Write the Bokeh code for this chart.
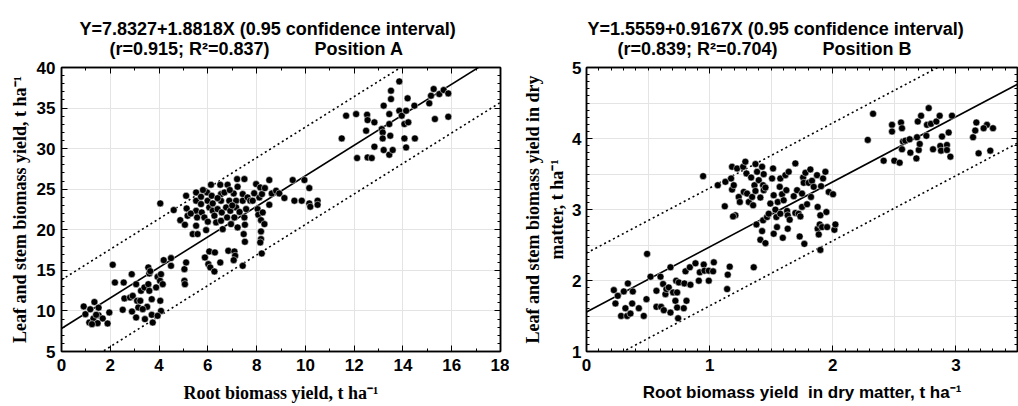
import numpy as np
from bokeh.plotting import figure
from bokeh.models import Range1d, LinearAxis, FixedTicker, Title
from bokeh.layouts import row
from bokeh.embed import file_html
from bokeh.resources import INLINE

# ---------------- Position A data (root vs leaf+stem biomass, t/ha) ----------------
xa_low = [0.91, 0.98, 1.18, 1.35, 1.52, 1.14, 1.31, 1.48, 1.52, 1.69, 1.89, 1.96, 1.25, 1.42]
ya_low = [10.55, 9.6, 10.2, 11.1, 10.4, 8.57, 9.07, 8.49, 9.48, 9.07, 8.45, 9.81, 8.37, 9.52]

xa_mid = [2.10, 2.19, 2.55, 2.51, 2.58, 2.88, 2.81, 2.92, 2.89, 3.06, 3.10, 3.15, 3.06, 3.26, 3.40,
          3.56, 3.60, 3.56, 3.60, 3.51, 3.42, 3.70, 3.70, 3.74, 3.88, 3.94, 4.04, 4.08, 4.15, 4.05,
          4.08, 3.94, 3.64, 3.23, 3.33, 4.05, 4.19, 4.49, 4.49, 5.04, 5.11, 5.04, 5.06]
ya_mid = [15.69, 13.5, 13.5, 10.14, 11.54, 14.53, 11.66, 11.86, 9.93, 13.3, 11.25, 10.43, 9.19, 12.48, 12.9,
          15.36, 14.62, 13.3, 12.48, 10.51, 8.99, 11.45, 9.52, 8.57, 12.9, 14.2, 13.71, 14.53, 13.3, 11.25,
          10.0, 9.4, 14.9, 11.25, 10.22, 23.25, 16.26, 16.51, 15.56, 15.15, 15.97, 13.71, 13.3]

xa_main = [4.60, 4.87, 5.06, 5.11, 5.13, 5.17, 5.38, 5.52, 5.52, 5.52,
           5.56, 5.52, 5.58, 5.72, 5.72, 5.75, 5.86, 5.93, 5.97, 5.99,
           6.06, 6.13, 6.16, 6.20, 6.20, 6.27, 6.34, 6.40, 6.51, 6.54,
           6.54, 6.57, 6.54, 6.61, 6.68, 6.75, 6.79, 6.81, 6.88, 6.92,
           6.95, 7.06, 7.09, 7.16, 7.16, 7.20, 7.22, 7.22, 7.43, 7.43,
           7.47, 7.50, 7.50, 7.52, 7.52, 7.57, 7.63, 7.74, 7.84, 7.98,
           8.04, 8.07, 8.11, 8.15, 8.18, 8.18, 8.18, 8.15, 8.22, 8.25,
           8.32, 8.21, 8.34, 8.52, 8.52, 8.62, 8.80, 8.93, 9.14, 9.48,
           9.55, 9.85, 9.96, 10.16, 10.16, 10.20, 10.50, 10.50,
           5.30, 6.00, 6.40, 6.90, 7.30, 7.90, 5.80, 7.00]
ya_main = [22.43, 21.19, 20.62, 24.19, 22.63, 21.73, 19.47, 24.6, 23.58, 22.34,
           21.52, 20.5, 19.47, 24.07, 23.17, 22.14, 21.52, 19.96, 24.6, 23.58,
           22.76, 25.55, 24.19, 23.25, 22.34, 21.73, 20.91, 22.55, 25.55, 24.4,
           23.58, 22.14, 21.11, 20.08, 24.6, 22.76, 21.52, 25.55, 23.58, 22.34,
           20.7, 24.48, 21.52, 23.58, 22.76, 26.25, 25.3, 20.29, 24.4, 23.58,
           19.47, 26.25, 21.52, 20.62, 18.52, 22.55, 23.99, 23.58, 23.58, 25.63,
           22.55, 21.85, 23.99, 25.22, 21.19, 19.8, 18.85, 18.44, 24.4, 22.14,
           20.7, 17.08, 25.14, 26.13, 23.08, 24.48, 24.81, 24.48, 23.91, 26.13,
           23.58, 23.58, 26.13, 25.14, 23.25, 22.84, 23.58, 23.08,
           22.0, 21.0, 23.9, 24.9, 22.2, 24.5, 24.9, 23.0]

xa_dip = [5.88, 6.06, 6.29, 6.02, 6.10, 6.27, 6.51, 6.84, 7.09, 7.12, 7.06, 7.43]
ya_dip = [16.59, 17.33, 17.21, 15.77, 15.36, 14.86, 15.97, 17.41, 17.33, 16.8, 16.26, 15.56]

xa_high = [11.49, 11.67, 12.08, 12.12, 12.53, 12.55, 12.49, 12.55, 12.72, 12.83,
           12.83, 13.13, 13.17, 13.17, 13.21, 13.21, 13.44, 13.44, 13.51, 13.51,
           13.48, 13.44, 13.58, 13.85, 13.95, 13.85, 14.06, 14.13, 14.19, 14.22,
           14.06, 14.13, 14.47, 14.49, 15.08, 15.15, 15.26, 15.31, 15.49, 15.67,
           15.86, 15.86]
ya_high = [31.26, 34.06, 34.26, 28.84, 34.18, 33.52, 32.21, 28.92, 28.84, 33.24,
           30.24, 32.41, 32.0, 31.26, 35.29, 29.83, 34.26, 33.03, 37.14, 36.11,
           31.59, 29.25, 29.83, 34.67, 34.06, 38.29, 33.03, 34.67, 36.2, 33.24,
           31.26, 30.15, 35.29, 31.26, 35.58, 36.52, 37.35, 33.65, 36.73, 37.22,
           36.81, 33.93]

# ---------------- Position B data (dry matter, t/ha) ----------------
xb_low = [0.222, 0.235, 0.254, 0.281, 0.303, 0.316, 0.336, 0.330, 0.357, 0.371,
          0.376, 0.425, 0.465, 0.487, 0.492, 0.520, 0.568, 0.568, 0.601, 0.606,
          0.622, 0.628, 0.641, 0.649, 0.668, 0.682, 0.682, 0.703, 0.722, 0.728,
          0.736, 0.750, 0.744, 0.736, 0.790, 0.795, 0.812, 0.804, 0.839, 0.844,
          0.885, 0.912, 0.920, 0.952, 0.958, 0.993, 0.993, 1.034, 1.028,
          1.147, 1.142, 1.163, 1.358]
yb_low = [1.865, 1.676, 1.784, 1.501, 1.846, 1.61, 1.959, 1.501, 1.534, 1.676,
          1.846, 1.61, 1.501, 1.737, 2.375, 2.054, 1.855, 1.629, 2.054, 1.629,
          1.95, 1.582, 1.808, 1.879, 1.903, 2.186, 1.548, 1.832, 1.714, 1.997,
          1.619, 1.973, 1.468, 1.832, 1.61, 1.959, 1.714, 2.129, 2.186, 1.94,
          2.242, 1.997, 2.115, 2.224, 2.139, 1.997, 2.139, 2.256, 2.129,
          2.082, 1.879, 2.195, 2.186]

xb_main = [0.947, 1.066, 1.128, 1.123,
           1.182, 1.209, 1.190, 1.174, 1.182, 1.196, 1.223, 1.236, 1.245, 1.272,
           1.277, 1.290, 1.299, 1.304, 1.318, 1.337, 1.345, 1.353, 1.372, 1.364,
           1.372, 1.380, 1.385, 1.399, 1.412, 1.412, 1.426, 1.434, 1.439, 1.439,
           1.434, 1.426, 1.453, 1.453, 1.466, 1.480, 1.493, 1.507, 1.515, 1.520,
           1.520, 1.534, 1.542, 1.547, 1.553, 1.569, 1.574, 1.574, 1.588, 1.594,
           1.601, 1.615, 1.623, 1.629, 1.634, 1.634, 1.642, 1.650, 1.683, 1.696,
           1.696, 1.710, 1.723, 1.731, 1.737, 1.750, 1.750, 1.759, 1.764, 1.769,
           1.778, 1.791, 1.804, 1.818, 1.823, 1.831, 1.845, 1.872, 1.877, 1.877,
           1.886, 1.894, 1.899, 1.899, 1.905, 1.913, 1.921, 1.940, 1.948, 1.954,
           1.967, 2.002, 2.013, 2.021]
yb_main = [3.47, 3.342, 3.39, 3.045,
           3.602, 2.918, 2.903, 3.437, 3.281, 3.342, 3.578, 3.177, 3.106, 3.602,
           3.248, 3.673, 3.508, 3.224, 3.106, 3.451, 3.177, 3.059, 3.64, 3.342,
           3.262, 2.79, 3.531, 3.413, 3.168, 2.573, 3.602, 3.342, 3.498, 3.272,
           2.847, 2.696, 3.309, 2.526, 2.894, 2.941, 3.083, 3.437, 3.578, 3.201,
           2.658, 2.998, 2.894, 2.752, 3.106, 3.319, 3.437, 2.941, 3.215, 2.601,
           3.13, 3.484, 3.272, 2.979, 2.918, 2.729, 3.531, 2.856, 3.187, 3.649,
           2.951, 3.272, 2.941, 2.62, 2.903, 3.036, 3.224, 3.451, 3.376, 2.516,
           3.517, 3.074, 3.376, 3.564, 3.177, 3.404, 3.319, 3.484, 3.036, 2.729,
           2.649, 2.79, 2.918, 2.431, 3.328, 2.752, 3.437, 3.531, 2.965, 2.752,
           3.248, 3.215, 2.714, 2.79]

xb_high = [2.284, 2.327, 2.413, 2.481, 2.481, 2.500, 2.543, 2.554, 2.562, 2.562,
           2.570, 2.589, 2.624, 2.630, 2.679, 2.684, 2.690, 2.698, 2.706, 2.717,
           2.760, 2.765, 2.779, 2.797, 2.814, 2.841, 2.868, 2.873, 2.879, 2.887,
           2.927, 2.927, 2.941, 2.955, 2.968, 3.139, 3.157, 3.166, 3.184, 3.252,
           3.279, 3.301, 3.225]
yb_high = [3.98, 4.348, 3.687, 4.192, 4.098, 3.687, 3.659, 4.225, 4.145, 3.848,
           3.956, 3.97, 3.989, 3.801, 3.72, 4.018, 4.239, 3.838, 3.923, 4.32,
           4.037, 4.192, 4.428, 4.206, 3.848, 4.239, 4.32, 3.895, 3.829, 4.027,
           3.909, 3.838, 4.084, 3.744, 4.32, 4.018, 4.112, 4.225, 3.791, 4.192,
           3.829, 4.145, 4.145]

xa = xa_low + xa_mid + xa_main + xa_dip + xa_high
ya = ya_low + ya_mid + ya_main + ya_dip + ya_high
xb = xb_low + xb_main + xb_high
yb = yb_low + yb_main + yb_high

# regression equations (from the titles) and half-width of the 0.95 bands
a_int, a_slope, a_band = 7.8327, 1.8818, 6.0
b_int, b_slope, b_band = 1.5559, 0.9167, 0.83

# ticks / labels
xa_ticks = [0, 2, 4, 6, 8, 10, 12, 14, 16, 18]
ya_ticks = [5, 10, 15, 20, 25, 30, 35, 40]
xb_ticks = [0, 1, 2, 3]
yb_ticks = [1, 2, 3, 4, 5]
xb_grid = [0, 0.5, 1, 1.5, 2, 2.5, 3, 3.5]
yb_grid = [1, 1.5, 2, 2.5, 3, 3.5, 4, 4.5, 5]

NB = "\u00a0"
title_a1 = "Y=7.8327+1.8818X (0.95 confidence interval)"
title_a2 = NB * 6 + "(r=0.915; R\u00b2=0.837)" + NB * 9 + "Position A"
title_b1 = "Y=1.5559+0.9167X (0.95 confidence interval)"
title_b2 = NB * 6 + "(r=0.839; R\u00b2=0.704)" + NB * 9 + "Position B"
xlab_a = "Root biomass yield, t ha\u207b\u00b9"
ylab_a = "Leaf and stem biomass yield, t ha\u207b\u00b9"
xlab_b = "Root biomass yield" + NB * 2 + "in dry matter, t ha\u207b\u00b9"
ylab_b = "Leaf and stem biomass yield in dry\nmatter, t ha\u207b\u00b9"

SANS = "Liberation Sans"
SERIF = "Liberation Serif"


def style_axis(ax, labels=True):
    ax.axis_line_width = 1.5
    ax.axis_line_color = "black"
    ax.major_tick_in = 6
    ax.major_tick_out = 0
    ax.minor_tick_in = 3
    ax.minor_tick_out = 0
    ax.major_tick_line_color = "black"
    ax.minor_tick_line_color = "black"
    if labels:
        ax.major_label_text_font = SANS
        ax.major_label_text_font_size = "17px"
        ax.major_label_text_font_style = "bold"
        ax.major_label_text_color = "black"
    else:
        ax.major_label_text_font_size = "1px"
        ax.major_label_text_color = None
        ax.major_label_standoff = 0


def make_fig(width, xr, yr, xt, xminor, yt, yminor, xgrid, ygrid, xlab, xlab_font, ylab,
             t1, t2, toff, bl, br, ylab_standoff, ytick_standoff,
             xs, ys, inter, slope, band):
    p = figure(width=width, height=406, x_range=Range1d(*xr), y_range=Range1d(*yr),
               output_backend="svg", toolbar_location=None, title=None,
               min_border_left=bl, min_border_right=br, min_border_top=67, min_border_bottom=55)
    p.background_fill_color = "white"
    p.border_fill_color = "white"
    p.outline_line_color = "black"
    p.outline_line_width = 1.5

    xtick = FixedTicker(ticks=xt, minor_ticks=xminor)
    ytick = FixedTicker(ticks=yt, minor_ticks=yminor)
    p.xaxis[0].ticker = xtick
    p.yaxis[0].ticker = ytick
    style_axis(p.xaxis[0])
    style_axis(p.yaxis[0])
    p.xaxis[0].major_label_standoff = 7
    p.yaxis[0].major_label_standoff = ytick_standoff
    p.xaxis[0].axis_label = xlab
    p.xaxis[0].axis_label_text_font = xlab_font
    p.xaxis[0].axis_label_text_font_size = "18px" if xlab_font == SERIF else "17px"
    p.xaxis[0].axis_label_text_font_style = "bold"
    p.xaxis[0].axis_label_text_color = "black"
    p.xaxis[0].axis_label_standoff = 9
    p.yaxis[0].axis_label = ylab
    p.yaxis[0].axis_label_text_font = SERIF
    p.yaxis[0].axis_label_text_font_size = "18px"
    p.yaxis[0].axis_label_text_font_style = "bold"
    p.yaxis[0].axis_label_text_color = "black"
    p.yaxis[0].axis_label_standoff = ylab_standoff

    top = LinearAxis(ticker=FixedTicker(ticks=xt, minor_ticks=xminor))
    right = LinearAxis(ticker=FixedTicker(ticks=yt, minor_ticks=yminor))
    style_axis(top, labels=False)
    style_axis(right, labels=False)
    p.add_layout(top, "above")
    p.add_layout(right, "right")

    p.xgrid[0].ticker = FixedTicker(ticks=xgrid)
    p.ygrid[0].ticker = FixedTicker(ticks=ygrid)
    p.grid.grid_line_color = "#e4e4e4"
    p.grid.grid_line_width = 1

    # two-line heading, left-aligned block shifted by an offset from the frame's left edge
    p.add_layout(Title(text=t1 + "\n" + t2, align="left", offset=toff, text_font=SANS,
                       text_font_size="18px", text_font_style="bold", text_color="black",
                       text_line_height=1.0, standoff=17), "above")

    lx = np.array(xr, dtype=float)
    fit = inter + slope * lx
    p.line(lx, fit, line_color="black", line_width=1.6)
    p.line(lx, fit + band, line_color="black", line_width=1.6, line_dash="2 3")
    p.line(lx, fit - band, line_color="black", line_width=1.6, line_dash="2 3")

    p.scatter(xs, ys, size=7, fill_color="black", line_color="white", line_width=0.5)
    return p


pa = make_fig(509, (0, 18), (5, 40), xa_ticks, list(range(0, 19)), ya_ticks, list(range(5, 41)),
              xa_ticks, ya_ticks, xlab_a, SERIF, ylab_a, title_a1, title_a2, 18, 61, 9, 4, 6,
              xa, ya, a_int, a_slope, a_band)
pb = make_fig(509, (0, 3.5), (1, 5), xb_ticks, [round(i * 0.1, 1) for i in range(0, 36)],
              yb_ticks, [round(1 + i * 0.1, 1) for i in range(0, 41)],
              xb_grid, yb_grid, xlab_b, SANS, ylab_b, title_b1, title_b2, 1, 77, 1, 2, 5,
              xb, yb, b_int, b_slope, b_band)

layout = row(pa, pb)
open("out.html", "w").write(file_html(layout, INLINE))
